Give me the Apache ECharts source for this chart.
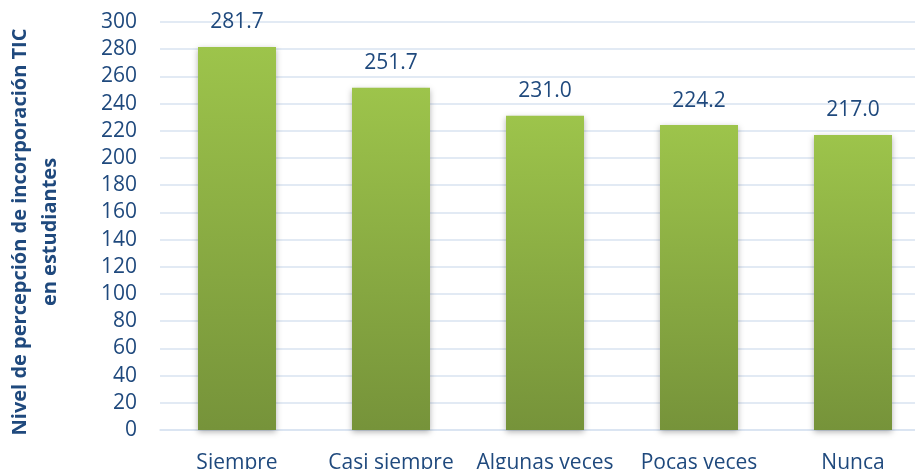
<!DOCTYPE html>
<html>
<head>
<meta charset="utf-8">
<script src="https://cdn.jsdelivr.net/npm/echarts@6/dist/echarts.min.js"></script>
<style>
  html, body { margin: 0; padding: 0; background: #fff; }
  #myChart { width: 915px; height: 469px; }
</style>
</head>
<body>
<div id="myChart"></div>
<script>
// datos
var categorias = ['Siempre', 'Casi siempre', 'Algunas veces', 'Pocas veces', 'Nunca']
var valores = [281.7, 251.7, 231.0, 224.2, 217.0]
var ejeY = { min: 0, max: 300, paso: 20 }

var azul = '#1F497D'
var fuente = 'Open Sans'

var myChart = echarts.init(document.getElementById('myChart'))
myChart.setOption({
  animation: false,
  grid: {
    left: 160,
    right: -15,
    top: 22,
    bottom: 39,
    outerBoundsMode: 'none'
  },
  xAxis: {
    type: 'category',
    data: categorias,
    axisTick: { show: false },
    axisLine: { lineStyle: { color: '#d9e3f1', width: 1.5 } },
    axisLabel: {
      interval: 0,
      color: azul,
      fontFamily: fuente,
      fontSize: 21,
      margin: 23
    }
  },
  yAxis: {
    type: 'value',
    min: ejeY.min,
    max: ejeY.max,
    interval: ejeY.paso,
    name: 'Nivel de percepción de incorporación TIC\nen estudiantes',
    nameLocation: 'middle',
    nameGap: 95,
    nameTextStyle: {
      color: azul,
      fontFamily: fuente,
      fontWeight: 'bold',
      fontSize: 20,
      lineHeight: 30,
      padding: [0, 12, 0, 0]
    },
    axisLine: { show: false },
    axisTick: { show: false },
    axisLabel: {
      color: azul,
      fontFamily: fuente,
      fontSize: 21,
      margin: 23
    },
    splitLine: { lineStyle: { color: '#d9e3f1', width: 1.5 } }
  },
  series: [
    {
      type: 'bar',
      data: valores,
      barWidth: 78,
      label: {
        show: true,
        position: 'top',
        distance: 14,
        color: azul,
        fontFamily: fuente,
        fontSize: 21,
        formatter: function (p) { return p.value.toFixed(1) }
      },
      itemStyle: {
        color: new echarts.graphic.LinearGradient(0, 0, 0, 1, [
          { offset: 0, color: '#9dc44b' },
          { offset: 1, color: '#76933a' }
        ]),
        shadowColor: 'rgba(0,0,0,0.3)',
        shadowBlur: 6,
        shadowOffsetY: 2
      }
    }
  ]
})
</script>
</body>
</html>
